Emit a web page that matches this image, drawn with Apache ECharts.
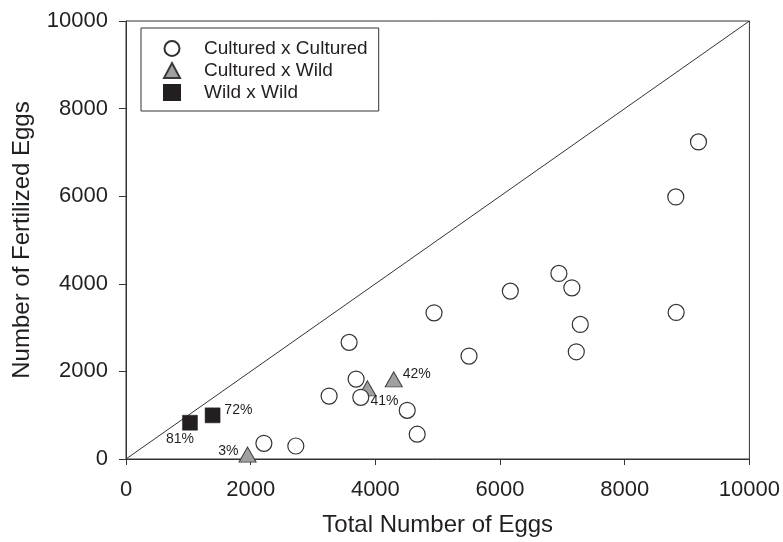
<!DOCTYPE html>
<html>
<head>
<meta charset="utf-8">
<script src="https://cdn.jsdelivr.net/npm/echarts@6/dist/echarts.min.js"></script>
<style>html,body{margin:0;padding:0;background:#fff}#c{width:783px;height:542px}</style>
</head>
<body>
<div id="c"></div>
<script>
// ---- data ----
const seriesNames = ['Cultured x Cultured', 'Cultured x Wild', 'Wild x Wild'];
const ccX = [9183, 8819, 8825, 6944, 7152, 7287, 7223, 6165, 4941, 5502, 3579, 3691, 3766, 4511, 4671, 3258, 2212, 2724];
const ccY = [7239, 5984, 3347, 4237, 3908, 3073, 2448, 3833, 3338, 2350, 2663, 1825, 1408, 1111, 566, 1437, 358, 297];
const cwX = [4295, 3873, 1950];
const cwY = [1818, 1613, 100];
const cwLabels = ['42%', '41%', '3%'];
const wwX = [1026, 1389];
const wwY = [828, 997];
const wwLabels = ['81%', '72%'];
const lineX = [0, 10000];
const lineY = [0, 10000];
const xTicks = [0, 2000, 4000, 6000, 8000, 10000];
const yTicks = [0, 2000, 4000, 6000, 8000, 10000];
const xTitle = 'Total Number of Eggs';
const yTitle = 'Number of Fertilized Eggs';

// ---- label placement (styling) ----
const labelPlace = {
  '42%': {position: 'right', offset: [0, -5]},
  '41%': {position: 'right', offset: [-6, 13]},
  '3%':  {position: 'left', offset: [0, -3]},
  '72%': {position: 'right', offset: [4, -5]},
  '81%': {position: 'bottom', offset: [-10, 2]}
};

const txt = '#231f20';
const font = 'Liberation Sans, Arial, sans-serif';

function pts(xs, ys, labels) {
  return xs.map((x, i) => {
    const item = {value: [x, ys[i]]};
    if (labels) {
      const p = labelPlace[labels[i]];
      item.label = {show: true, formatter: labels[i], position: p.position, offset: p.offset, distance: 0};
    }
    return item;
  });
}

const chart = echarts.init(document.getElementById('c'), null, {renderer: 'canvas'});
chart.setOption({
  animation: false,
  backgroundColor: '#fff',
  textStyle: {fontFamily: font, color: txt},
  grid: {left: 126, right: 33, top: 21, bottom: 83, show: true, borderColor: '#333', borderWidth: 1, containLabel: false},
  legend: {
    data: seriesNames,
    orient: 'vertical',
    left: 141, top: 28,
    padding: [11, 11, 9, 22],
    itemGap: 3,
    itemWidth: 16, itemHeight: 15,
    borderColor: '#333', borderWidth: 1,
    textStyle: {fontSize: 19, color: txt, fontFamily: font, padding: [0, 0, 0, 19]},
    selectedMode: false
  },
  xAxis: {
    type: 'value', min: xTicks[0], max: xTicks[xTicks.length - 1], interval: xTicks[1] - xTicks[0],
    name: xTitle, nameLocation: 'middle', nameGap: 54,
    nameTextStyle: {fontSize: 24, color: txt, fontFamily: font},
    axisLine: {show: true, onZero: false, lineStyle: {color: '#333', width: 1}},
    axisTick: {show: true, inside: false, length: 6, lineStyle: {color: '#333'}},
    axisLabel: {fontSize: 22, color: txt, margin: 20, formatter: v => String(v)},
    splitLine: {show: false}
  },
  yAxis: {
    type: 'value', min: yTicks[0], max: yTicks[yTicks.length - 1], interval: yTicks[1] - yTicks[0],
    name: yTitle, nameLocation: 'middle', nameGap: 92,
    nameTextStyle: {fontSize: 24, color: txt, fontFamily: font},
    axisLine: {show: true, onZero: false, lineStyle: {color: '#333', width: 1}},
    axisTick: {show: true, inside: false, length: 7, lineStyle: {color: '#333'}},
    axisLabel: {fontSize: 22, color: txt, margin: 18, formatter: v => String(v)},
    splitLine: {show: false}
  },
  series: [
    {
      type: 'line', data: lineX.map((x, i) => [x, lineY[i]]), symbol: 'none',
      lineStyle: {color: '#333', width: 1}, silent: true, z: 1
    },
    {
      name: seriesNames[1], type: 'scatter', symbol: 'triangle', symbolSize: [17, 15],
      itemStyle: {color: '#a0a0a0', borderColor: '#3a3a3a', borderWidth: 1, opacity: 1},
      label: {fontSize: 14, color: txt, fontFamily: font},
      data: pts(cwX, cwY, cwLabels), z: 2
    },
    {
      name: seriesNames[0], type: 'scatter', symbol: 'circle', symbolSize: 16,
      itemStyle: {color: '#ffffff', borderColor: '#333', borderWidth: 1.2, opacity: 1},
      data: pts(ccX, ccY), z: 3
    },
    {
      name: seriesNames[2], type: 'scatter', symbol: 'rect', symbolSize: 15,
      itemStyle: {color: '#231f20', borderColor: '#231f20', borderWidth: 0.5, opacity: 1},
      label: {fontSize: 14, color: txt, fontFamily: font},
      data: pts(wwX, wwY, wwLabels), z: 4
    }
  ]
});
</script>
</body>
</html>
